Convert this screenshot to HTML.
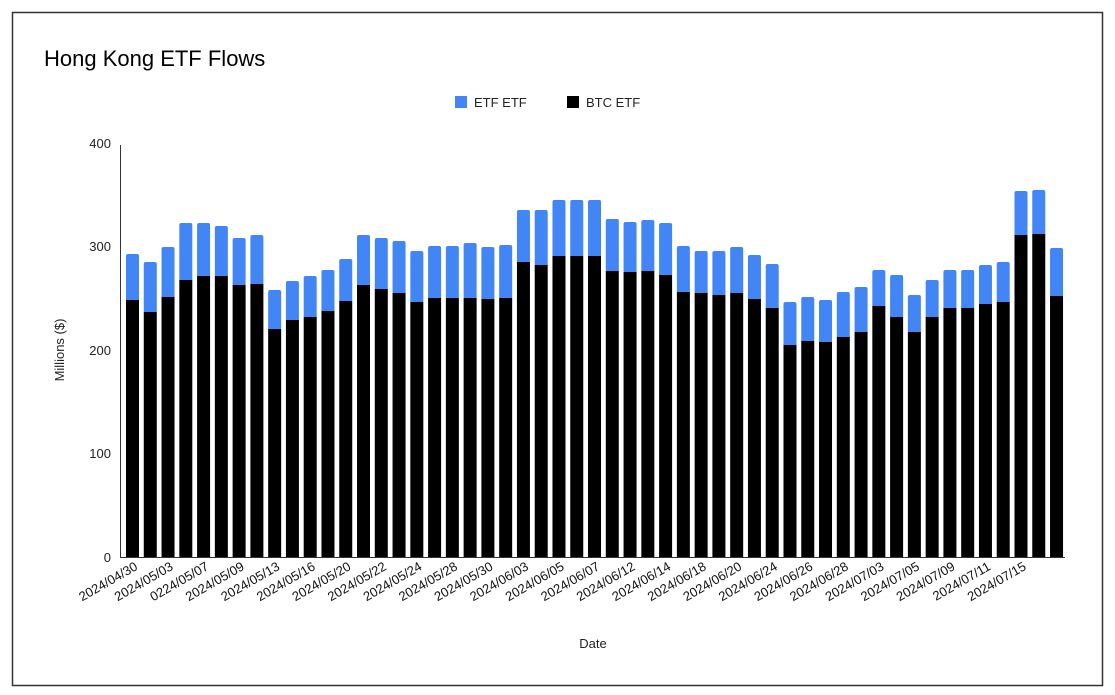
<!DOCTYPE html>
<html><head><meta charset="utf-8"><style>
body{margin:0;background:#fff;}
svg{display:block;font-family:"Liberation Sans",Arial,sans-serif;}
</style></head><body>
<svg id="c" width="1115" height="695" viewBox="0 0 1115 695" xmlns="http://www.w3.org/2000/svg">
<rect x="0" y="0" width="1115" height="695" fill="#fff"/>
<rect x="12.5" y="12.5" width="1090" height="673" fill="none" stroke="#333" stroke-width="1.5"/>
<text x="44" y="66" font-size="22" fill="#000">Hong Kong ETF Flows</text>
<rect x="455" y="96" width="12" height="12" fill="#4285f4"/>
<text x="474" y="107" font-size="13" fill="#222">ETF ETF</text>
<rect x="567" y="96" width="12" height="12" fill="#000"/>
<text x="586" y="107" font-size="13" fill="#222">BTC ETF</text>
<g font-size="13" fill="#222" text-anchor="end">
<text x="111" y="148">400</text>
<text x="111" y="251">300</text>
<text x="111" y="355">200</text>
<text x="111" y="458">100</text>
<text x="111" y="562">0</text>
</g>
<text transform="translate(64,350) rotate(-90)" font-size="13" fill="#222" text-anchor="middle">Millions ($)</text>
<text x="593" y="648" font-size="13" fill="#222" text-anchor="middle">Date</text>
<g id="bars"></g>
<g id="labels" font-size="13" fill="#111" text-anchor="end"></g>
<line x1="120.5" y1="145" x2="120.5" y2="557" stroke="#333" stroke-width="1"/>
<line x1="120" y1="557.5" x2="1065" y2="557.5" stroke="#333" stroke-width="1"/>
</svg>
<script>
var d=[[254,300],[262,312],[247,297],[223,280],[223,276],[226,276],[238,285],[235,284],[290,329],[281,320],[276,317],[270,311],[259,301],[235,285],[238,289],[241,293],[251,302],[246,298],[246,298],[243,298],[247,299],[245,298],[210,262],[210,265],[200,256],[200,256],[200,256],[219,271],[222,272],[220,271],[223,275],[246,292],[251,293],[251,295],[247,293],[255,299],[264,308],[302,345],[297,341],[300,342],[292,337],[287,332],[270,306],[275,317],[295,332],[280,317],[270,308],[270,308],[265,304],[262,302],[191,235],[190,234],[248,296]];
var L=["2024/04/30","2024/05/03","0224/05/07","2024/05/09","2024/05/13","2024/05/16","2024/05/20","2024/05/22","2024/05/24","2024/05/28","2024/05/30","2024/06/03","2024/06/05","2024/06/07","2024/06/12","2024/06/14","2024/06/18","2024/06/20","2024/06/24","2024/06/26","2024/06/28","2024/07/03","2024/07/05","2024/07/09","2024/07/11","2024/07/15"];
var ns="http://www.w3.org/2000/svg",g=document.getElementById("bars"),lg=document.getElementById("labels");
for(var i=0;i<d.length;i++){
 var cx=132.5+i*17.77,x=cx-6.5;
 var p=document.createElementNS(ns,"path");
 var t=d[i][0],b=d[i][1],r=2;
 p.setAttribute("d","M"+x+","+b+"V"+(t+r)+"Q"+x+","+t+" "+(x+r)+","+t+"H"+(x+13-r)+"Q"+(x+13)+","+t+" "+(x+13)+","+(t+r)+"V"+b+"Z");
 p.setAttribute("fill","#4285f4");g.appendChild(p);
 var k=document.createElementNS(ns,"rect");
 k.setAttribute("x",x);k.setAttribute("y",b);k.setAttribute("width",13);k.setAttribute("height",557-b);k.setAttribute("fill","#000");g.appendChild(k);
 if(i%2==0&&i/2<L.length){
  var tx=document.createElementNS(ns,"text");
  tx.setAttribute("transform","translate("+(cx+6)+",569) rotate(-30)");
  tx.textContent=L[i/2];lg.appendChild(tx);
 }
}
</script>
</body></html>
